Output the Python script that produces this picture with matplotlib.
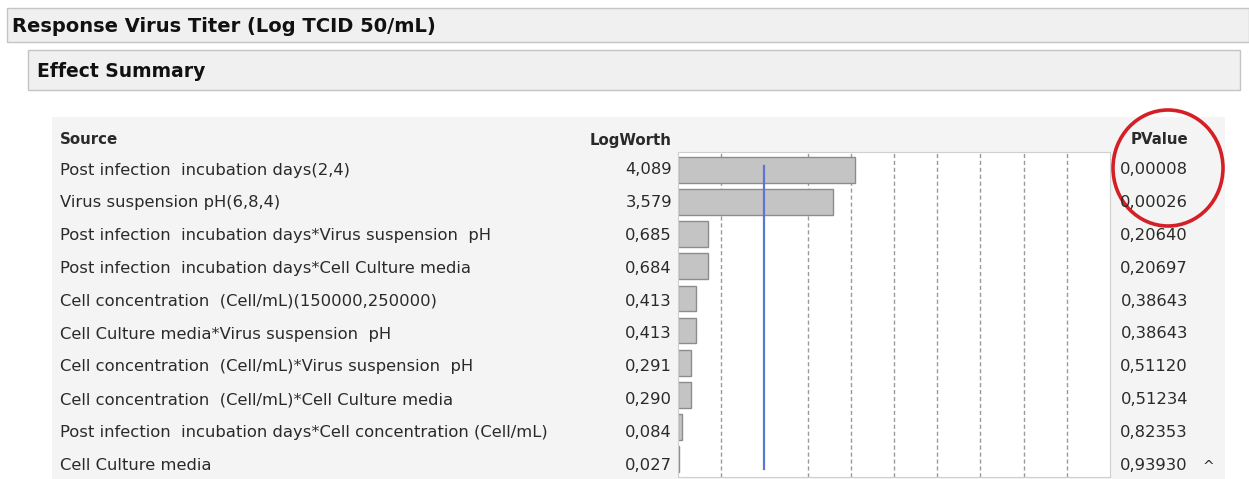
import matplotlib.pyplot as plt
from matplotlib.patches import Rectangle, Ellipse

sources = [
    'Post infection  incubation days(2,4)',
    'Virus suspension pH(6,8,4)',
    'Post infection  incubation days*Virus suspension  pH',
    'Post infection  incubation days*Cell Culture media',
    'Cell concentration  (Cell/mL)(150000,250000)',
    'Cell Culture media*Virus suspension  pH',
    'Cell concentration  (Cell/mL)*Virus suspension  pH',
    'Cell concentration  (Cell/mL)*Cell Culture media',
    'Post infection  incubation days*Cell concentration (Cell/mL)',
    'Cell Culture media',
]
logworth = [4.089, 3.579, 0.685, 0.684, 0.413, 0.413, 0.291, 0.290, 0.084, 0.027]
pvalues = ['0,00008', '0,00026', '0,20640', '0,20697', '0,38643',
           '0,38643', '0,51120', '0,51234', '0,82353', '0,93930']
gridvals = [1, 3, 4, 5, 6, 7, 8, 9]

W, H = 1249, 479
plt.rcParams['font.family'] = ['DejaVu Sans']
fig = plt.figure(figsize=(W / 100, H / 100), dpi=100)

# background axes in pixel coords
bg = fig.add_axes([0, 0, 1, 1])
bg.set_xlim(0, W)
bg.set_ylim(H, 0)
bg.axis('off')

bg.add_patch(Rectangle((7, 8), W - 7, 34, facecolor='#f0f0f0', edgecolor='#c4c4c4', lw=1))
bg.text(12, 26, 'Response Virus Titer (Log TCID 50/mL)', fontsize=14, fontweight='bold',
        va='center', ha='left', color='#111111')
bg.add_patch(Rectangle((28, 50), 1212, 40, facecolor='#f0f0f0', edgecolor='#c4c4c4', lw=1))
bg.text(37, 71, 'Effect Summary', fontsize=13.5, fontweight='bold',
        va='center', ha='left', color='#111111')

# table background
bg.add_patch(Rectangle((52, 117), 1173, 362, facecolor='#f4f4f4', edgecolor='none'))

fs = 11.8
row0, step = 170, 32.8
tc = '#2a2a2a'
bg.text(60, 140, 'Source', fontsize=10.8, fontweight='bold', va='center', color=tc)
bg.text(672, 140, 'LogWorth', fontsize=10.8, fontweight='bold', va='center', ha='right', color=tc)
bg.text(1188, 140, 'PValue', fontsize=10.8, fontweight='bold', va='center', ha='right', color=tc)
for i, (s, lw_, p) in enumerate(zip(sources, logworth, pvalues)):
    y = row0 + i * step
    bg.text(60, y, s, fontsize=fs, va='center', ha='left', color=tc)
    bg.text(672, y, f'{lw_:.3f}'.replace('.', ','), fontsize=fs, va='center', ha='right', color=tc)
    bg.text(1188, y, p, fontsize=fs, va='center', ha='right', color=tc)
bg.text(1208, row0 + 9 * step + 2, '^', fontsize=10, va='center', ha='center', color=tc)

bg.add_patch(Ellipse((1168, 168), 110, 116, facecolor='none', edgecolor='#d41f26', lw=2.6))

# bar chart axes
x0, x1, y0, y1 = 678, 1110, 152, 477
ax = fig.add_axes([x0 / W, 1 - y1 / H, (x1 - x0) / W, (y1 - y0) / H])
ax.set_facecolor('white')
ax.set_xlim(0, 10)
ax.set_ylim(9.55, -0.55)
for g in gridvals:
    ax.axvline(g, color='#9a9a9a', lw=1, ls=(0, (3, 2)), zorder=1)
ax.barh(range(len(logworth)), logworth, height=0.8, color='#c4c4c4',
        edgecolor='#8c8c8c', lw=1, zorder=2)
ax.plot([2, 2], [-0.1, 9.3], color='#5b78d0', lw=1.6, zorder=3)
ax.set_xticks([])
ax.set_yticks([])
for sp in ax.spines.values():
    sp.set_color('#cfcfcf')

fig.savefig('out.png', dpi=100, facecolor='white')
